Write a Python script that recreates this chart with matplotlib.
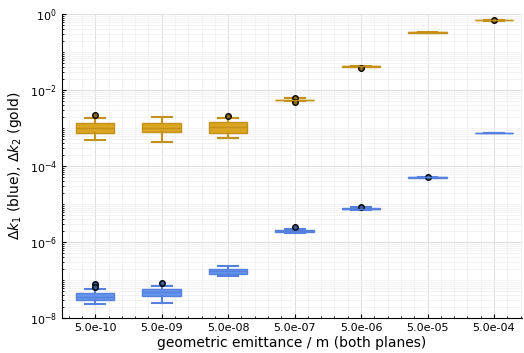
import numpy as np
import matplotlib
matplotlib.use("Agg")
import matplotlib.pyplot as plt
from matplotlib.ticker import LogLocator, FixedLocator, MultipleLocator, NullFormatter

# categories (geometric emittance)
labels = ["5.0e-10", "5.0e-09", "5.0e-08", "5.0e-07", "5.0e-06", "5.0e-05", "5.0e-04"]

# box statistics: q1, median, q3, whisker low, whisker high, outliers
k1_q1 = [3.0e-8, 3.8e-8, 1.45e-7, 1.8e-6, 7.3e-6, 4.9e-5, 7.3e-4]
k1_med = [3.55e-8, 4.8e-8, 1.7e-7, 1.9e-6, 7.5e-6, 5.0e-5, 7.4e-4]
k1_q3 = [4.6e-8, 5.8e-8, 1.95e-7, 2.05e-6, 7.8e-6, 5.1e-5, 7.5e-4]
k1_lo = [2.3e-8, 2.5e-8, 1.28e-7, 1.7e-6, 7.0e-6, 4.8e-5, 7.2e-4]
k1_hi = [5.8e-8, 6.9e-8, 2.3e-7, 2.15e-6, 8.1e-6, 5.2e-5, 7.6e-4]
k1_out = [[7.9e-8, 6.6e-8], [8.3e-8], [], [2.5e-6], [8.4e-6], [5.15e-5], []]

k2_q1 = [7.4e-4, 7.85e-4, 7.6e-4, 5.3e-3, 0.041, 0.325, 0.68]
k2_med = [1.0e-3, 1.0e-3, 1.05e-3, 5.45e-3, 0.042, 0.33, 0.69]
k2_q3 = [1.35e-3, 1.35e-3, 1.4e-3, 5.6e-3, 0.043, 0.335, 0.70]
k2_lo = [4.8e-4, 4.3e-4, 5.4e-4, 5.1e-3, 0.040, 0.315, 0.665]
k2_hi = [1.83e-3, 1.95e-3, 1.83e-3, 6.0e-3, 0.044, 0.345, 0.71]
k2_out = [[2.2e-3], [], [2.1e-3], [6.3e-3, 4.7e-3], [0.039], [], [0.70]]


def stats(q1, med, q3, lo, hi, out):
    return [dict(q1=a, med=b, q3=c, whislo=d, whishi=e, fliers=f)
            for a, b, c, d, e, f in zip(q1, med, q3, lo, hi, out)]


fig = plt.figure(figsize=(5.24, 3.53), dpi=100)
ax = fig.add_axes([0.1183, 0.0992, 0.8777, 0.8611])
pos = np.arange(1, len(labels) + 1)


def draw(st, fill, edge, dot):
    ax.bxp(st, positions=pos, widths=0.58, patch_artist=True, manage_ticks=False,
           boxprops=dict(facecolor=fill, edgecolor=edge, linewidth=1.0),
           medianprops=dict(color=edge, linewidth=1.0),
           whiskerprops=dict(color=edge, linewidth=1.5),
           capprops=dict(color=edge, linewidth=1.5),
           capwidths=0.3,
           flierprops=dict(marker="o", markersize=4, markerfacecolor=dot,
                           markeredgecolor="black", markeredgewidth=1.0))


draw(stats(k1_q1, k1_med, k1_q3, k1_lo, k1_hi, k1_out), "#6495ED", "#5580DD", "#3a5a9a")
draw(stats(k2_q1, k2_med, k2_q3, k2_lo, k2_hi, k2_out), "#DAA520", "#C4921A", "#8a6a1a")

ax.set_yscale("log")
ax.set_ylim(1e-8, 1e0)
ax.set_xlim(0.5, 7.42)
ax.yaxis.set_major_locator(FixedLocator([1e-8, 1e-6, 1e-4, 1e-2, 1e0]))
ax.yaxis.set_minor_locator(LogLocator(base=10, subs=np.arange(1, 10), numticks=100))
ax.yaxis.set_minor_formatter(NullFormatter())
ax.set_xticks(pos)
ax.set_xticklabels(labels)
ax.xaxis.set_minor_locator(MultipleLocator(0.2))

ax.grid(True, which="major", color="#e0e0e0", linewidth=0.8)
ax.grid(True, which="minor", color="#f0f0f0", linewidth=0.6)
ax.set_axisbelow(True)
for s in ["top", "right"]:
    ax.spines[s].set_visible(False)
ax.tick_params(direction="in", labelsize=8, length=3, colors="black")
ax.tick_params(which="minor", direction="in", length=1.5)

ax.set_xlabel("geometric emittance / m (both planes)", fontsize=10, labelpad=2)
ax.set_ylabel(r"$\Delta k_1$ (blue), $\Delta k_2$ (gold)", fontsize=10)

fig.savefig("out.png", dpi=100)
